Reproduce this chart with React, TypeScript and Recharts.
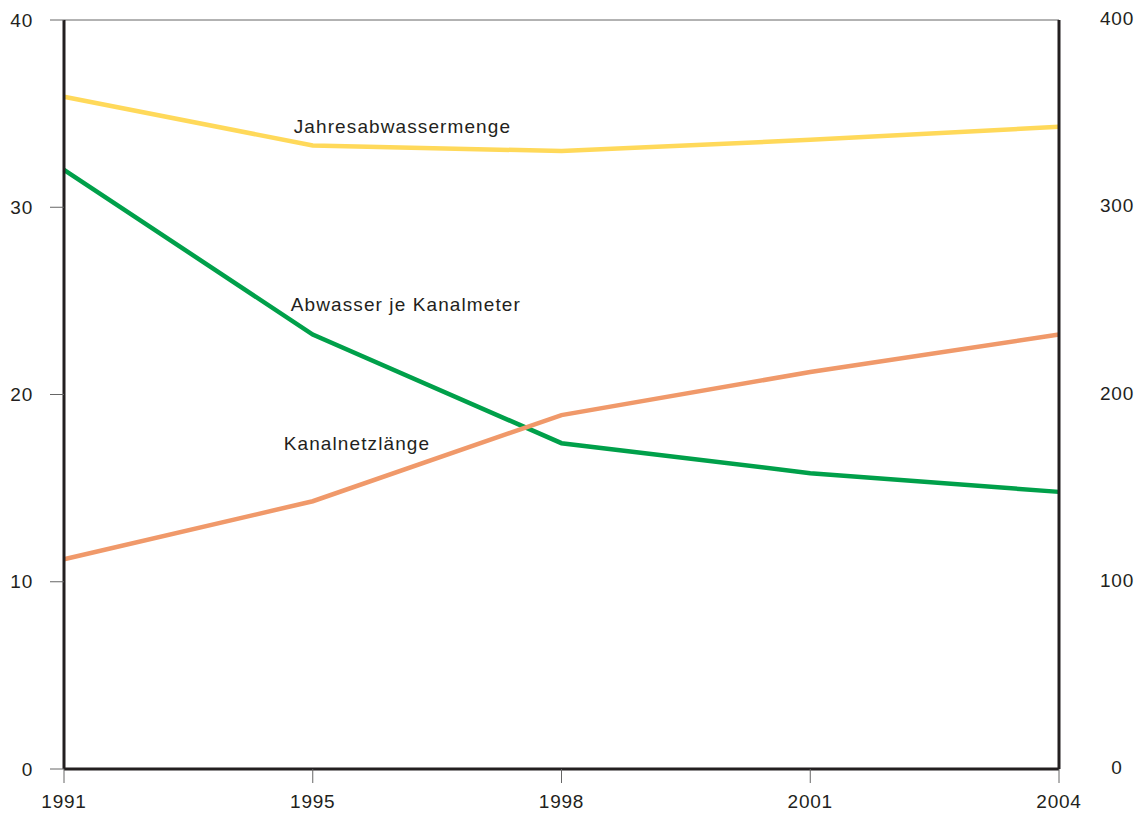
import React from 'react';
import { LineChart, Line, XAxis, YAxis, CartesianGrid, LabelList } from 'recharts';

const years = ['1991', '1995', '1998', '2001', '2004'];
const jahresabwassermenge = [359, 333, 330, 336, 343];
const abwasserJeKanalmeter = [32.0, 23.2, 17.4, 15.8, 14.8];
const kanalnetzlaenge = [112, 143, 189, 212, 232];
const leftTicks = [0, 10, 20, 30, 40];
const rightTicks = [0, 100, 200, 300, 400];

const data = years.map((year, i) => ({
  year,
  menge: jahresabwassermenge[i],
  jeMeter: abwasserJeKanalmeter[i],
  netz: kanalnetzlaenge[i],
}));

const font = '"Liberation Sans", Arial, sans-serif';
const ink = '#231f20';
const tickStyle = { fill: ink, fontSize: 19, fontFamily: font, letterSpacing: 0.8 };

const seriesLabel = (text: string, at: number, dx: number, dy: number) => (props: any) => {
  if (props.index !== at) return null;
  return (
    <text
      x={props.x + dx}
      y={props.y + dy}
      fill={ink}
      fontSize={19}
      fontFamily={font}
      letterSpacing={1.1}
      dominantBaseline="middle"
    >
      {text}
    </text>
  );
};

const RightTick = (props: any) => (
  <text
    x={props.x + 50}
    y={props.y}
    fill={ink}
    fontSize={19}
    fontFamily={font}
    letterSpacing={0.8}
    textAnchor="middle"
    dominantBaseline="middle"
  >
    {props.payload.value}
  </text>
);

export default function App() {
  return (
    <div style={{ position: 'absolute', left: 0, top: 0, background: '#fff' }}>
      <LineChart width={1134} height={819} data={data} margin={{ top: 20, right: 10, left: 0, bottom: 0 }}>
        <CartesianGrid vertical={false} stroke="#666" strokeWidth={1} />
        <XAxis
          dataKey="year"
          padding={{ left: 0, right: 0 }}
          height={50}
          axisLine={{ stroke: ink, strokeWidth: 3 }}
          tickLine={{ stroke: '#666' }}
          tickSize={14}
          tickMargin={12}
          tick={tickStyle}
        />
        <YAxis
          yAxisId="left"
          domain={[0, 40]}
          ticks={leftTicks}
          width={64}
          axisLine={{ stroke: ink, strokeWidth: 3 }}
          tickLine={{ stroke: '#666' }}
          tickSize={14}
          tickMargin={17}
          tick={tickStyle}
        />
        <YAxis
          yAxisId="right"
          orientation="right"
          domain={[0, 400]}
          ticks={rightTicks}
          width={65}
          axisLine={{ stroke: ink, strokeWidth: 3 }}
          tickLine={false}
          tick={<RightTick />}
        />
        <Line yAxisId="right" dataKey="menge" stroke="#ffd95a" strokeWidth={4.5} dot={false} isAnimationActive={false}>
          <LabelList content={seriesLabel('Jahresabwassermenge', 1, -19, -17)} />
        </Line>
        <Line yAxisId="left" dataKey="jeMeter" stroke="#00a04a" strokeWidth={4.5} dot={false} isAnimationActive={false}>
          <LabelList content={seriesLabel('Abwasser je Kanalmeter', 1, -22, -29)} />
        </Line>
        <Line yAxisId="right" dataKey="netz" stroke="#f0996a" strokeWidth={4.5} dot={false} isAnimationActive={false}>
          <LabelList content={seriesLabel('Kanalnetzlänge', 1, -29, -56)} />
        </Line>
      </LineChart>
    </div>
  );
}
